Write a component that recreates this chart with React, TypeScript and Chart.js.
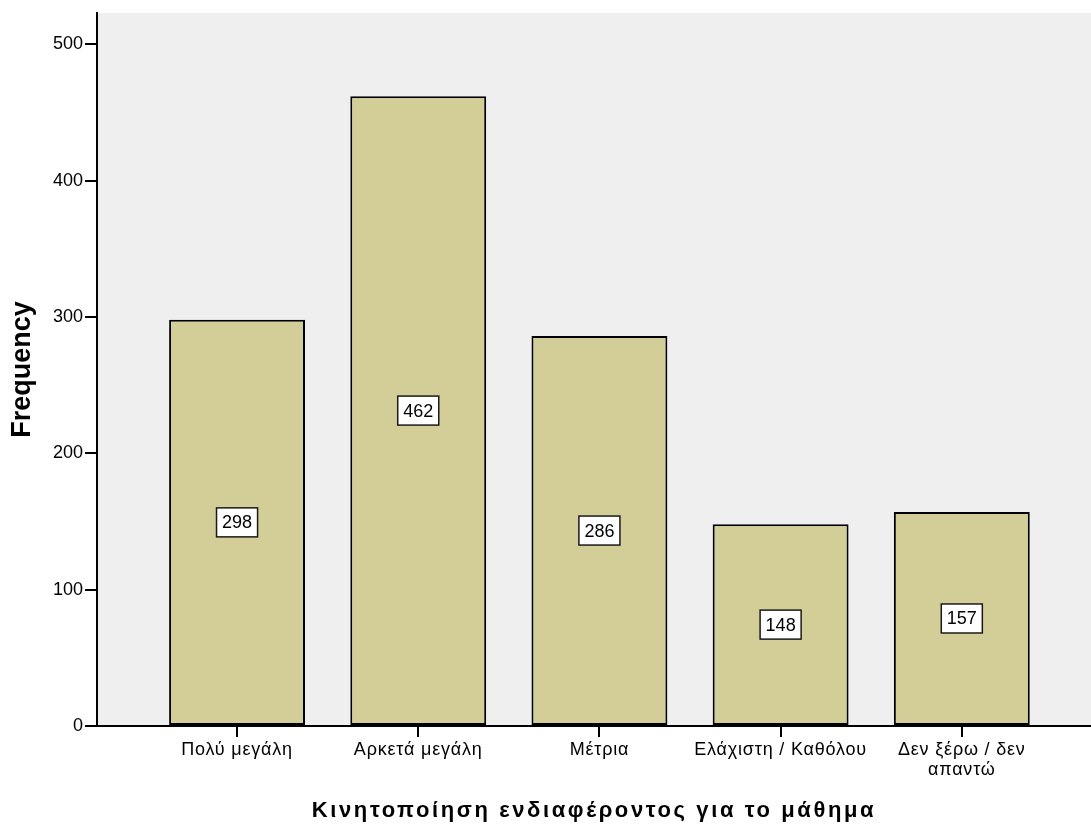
import React, { useEffect, useRef } from "react";
import { Chart, registerables } from "chart.js";

Chart.register(...registerables);

const CATEGORIES: string[][] = [
  ["Πολύ μεγάλη"],
  ["Αρκετά μεγάλη"],
  ["Μέτρια"],
  ["Ελάχιστη / Καθόλου"],
  ["Δεν ξέρω / δεν", "απαντώ"],
];
const FREQUENCIES: number[] = [298, 462, 286, 148, 157];
const Y_TICKS: number[] = [0, 100, 200, 300, 400, 500];
const Y_MAX = 523;
const X_MIN = -0.773;
const X_MAX = 4.713;
const X_TITLE = "Κινητοποίηση ενδιαφέροντος για το μάθημα";
const Y_TITLE = "Frequency";

const FONT = "'Liberation Sans', Arial, Helvetica, sans-serif";

const bgPlugin = {
  id: "plotBg",
  beforeDraw(chart: any) {
    const { ctx, chartArea } = chart;
    ctx.save();
    ctx.fillStyle = "#efefef";
    ctx.fillRect(chartArea.left, chartArea.top, chartArea.right - chartArea.left, chartArea.bottom - chartArea.top);
    ctx.restore();
    // wider letter spacing for the Greek x-axis texts
    const sx = chart.scales.x;
    if (sx && !sx._spaced) {
      const dl = sx.drawLabels.bind(sx);
      const dt = sx.drawTitle.bind(sx);
      sx.drawLabels = (ca: any) => {
        chart.ctx.save();
        (chart.ctx as any).letterSpacing = "0.8px";
        dl(ca);
        chart.ctx.restore();
      };
      sx.drawTitle = () => {
        chart.ctx.save();
        (chart.ctx as any).letterSpacing = "2.6px";
        dt();
        chart.ctx.restore();
      };
      sx._spaced = true;
    }
  },
};

const labelPlugin = {
  id: "boxLabels",
  afterDatasetsDraw(chart: any) {
    const { ctx } = chart;
    const meta = chart.getDatasetMeta(0);
    ctx.save();
    ctx.font = `18px ${FONT}`;
    ctx.textAlign = "center";
    ctx.textBaseline = "middle";
    meta.data.forEach((bar: any, i: number) => {
      const text = String(FREQUENCIES[i]);
      const w = ctx.measureText(text).width + 11;
      const h = 29;
      const cx = bar.x;
      const cy = (bar.y + bar.base) / 2;
      ctx.fillStyle = "#ffffff";
      ctx.fillRect(cx - w / 2, cy - h / 2, w, h);
      ctx.strokeStyle = "#1a1a1a";
      ctx.lineWidth = 1.5;
      ctx.strokeRect(cx - w / 2, cy - h / 2, w, h);
      ctx.fillStyle = "#000000";
      ctx.fillText(text, cx, cy + 1);
    });
    ctx.restore();
  },
};

export default function App() {
  const ref = useRef<HTMLCanvasElement | null>(null);

  useEffect(() => {
    document.body.style.margin = "0";
    const canvas = ref.current;
    if (!canvas) return;
    const chart = new Chart(canvas, {
      type: "bar",
      data: {
        datasets: [
          {
            data: FREQUENCIES.map((v, i) => ({ x: i, y: v })),
            backgroundColor: "#d3ce97",
            borderColor: "#000000",
            borderWidth: 2,
            borderSkipped: false,
            barPercentage: 0.75,
            categoryPercentage: 1,
          },
        ],
      },
      options: {
        responsive: false,
        animation: false,
        devicePixelRatio: 1,
        layout: { padding: { top: 13, right: 0, left: 0, bottom: 0 } },
        plugins: {
          legend: { display: false },
          tooltip: { enabled: false },
        },
        scales: {
          x: {
            type: "linear",
            offset: false,
            min: X_MIN,
            max: X_MAX,
            afterBuildTicks: (scale: any) => {
              scale.ticks = CATEGORIES.map((_, i) => ({ value: i }));
            },
            afterFit: (scale: any) => {
              scale.height = 101;
            },
            ticks: {
              autoSkip: false,
              maxRotation: 0,
              minRotation: 0,
              padding: 3,
              color: "#000000",
              font: { family: FONT, size: 18, lineHeight: 1.1 },
              callback: (value: any) => {
                const c = CATEGORIES[Math.round(Number(value))];
                return c ? (c.length === 1 ? c[0] : c) : "";
              },
            },
            grid: {
              offset: false,
              drawOnChartArea: false,
              drawTicks: true,
              tickLength: 11,
              color: "#000000",
              lineWidth: 2,
            },
            border: { display: true, color: "#000000", width: 2 },
            title: {
              display: true,
              text: X_TITLE,
              color: "#000000",
              font: { family: FONT, size: 22, weight: "bold" },
              padding: { top: 0, bottom: 3 },
            },
          },
          y: {
            type: "linear",
            min: 0,
            max: Y_MAX,
            afterBuildTicks: (scale: any) => {
              scale.ticks = Y_TICKS.map((v) => ({ value: v }));
            },
            afterFit: (scale: any) => {
              scale.width = 97;
            },
            ticks: {
              padding: 2,
              color: "#000000",
              font: { family: FONT, size: 18 },
            },
            grid: {
              drawOnChartArea: false,
              drawTicks: true,
              tickLength: 12,
              color: "#000000",
              lineWidth: 2,
            },
            border: { display: true, color: "#000000", width: 2 },
            title: {
              display: true,
              text: Y_TITLE,
              color: "#000000",
              font: { family: FONT, size: 27, weight: "bold" },
              padding: { top: 6, bottom: 0 },
            },
          },
        },
      },
      plugins: [bgPlugin, labelPlugin],
    } as any);
    return () => chart.destroy();
  }, []);

  return (
    <canvas
      ref={ref}
      width={1091}
      height={827}
      style={{ display: "block", width: 1091, height: 827 }}
    />
  );
}
